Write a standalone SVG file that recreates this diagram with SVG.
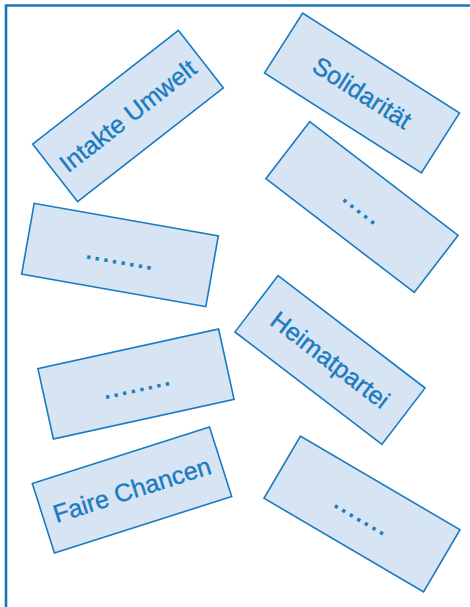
<svg xmlns="http://www.w3.org/2000/svg" width="470" height="607" viewBox="0 0 470 607">
<style>
.card{fill:#d6e4f4;stroke:#1a7bc0;stroke-width:1.6}
.lbl{font-family:"Liberation Sans",Arial,sans-serif;font-size:25px;fill:#1a7bc0;stroke:#1a7bc0;stroke-width:0.35;text-anchor:middle}
.dots{letter-spacing:1.8px;stroke-width:0.8}
.frame{fill:none;stroke:#1778b8;stroke-width:2.6}
</style>
<rect width="470" height="607" fill="#ffffff"/>
<path class="frame" d="M6 607 V5.5 H470"/>
<g id="connectors"/>
<g id="n-intakte-umwelt" transform="translate(128,116) rotate(-38)">
<rect class="card" x="-92.5" y="-36.5" width="185" height="73"/>
<text class="lbl" x="0" y="8.5">Intakte Umwelt</text>
</g>
<g id="n-solidaritaet" transform="translate(362,93) rotate(32.5)">
<rect class="card" x="-93" y="-35.5" width="186" height="71"/>
<text class="lbl" x="0" y="8.5">Solidarität</text>
</g>
<g id="n-dots-right-1" transform="translate(362,207) rotate(37.5)">
<rect class="card" x="-93.5" y="-36" width="187" height="72"/>
<text class="lbl dots" x="1" y="7">.....</text>
</g>
<g id="n-dots-left-1" transform="translate(120,255) rotate(10)">
<rect class="card" x="-93.5" y="-36" width="187" height="72"/>
<text class="lbl dots" x="1" y="9">........</text>
</g>
<g id="n-dots-left-2" transform="translate(136,384) rotate(-12.4)">
<rect class="card" x="-92.5" y="-36" width="185" height="72"/>
<text class="lbl dots" x="1" y="8">........</text>
</g>
<g id="n-heimatpartei" transform="translate(330,360) rotate(37.4)">
<rect class="card" x="-92.5" y="-35.5" width="185" height="71"/>
<text class="lbl" x="0" y="8.5">Heimatpartei</text>
</g>
<g id="n-faire-chancen" transform="translate(132,490) rotate(-17.7)">
<rect class="card" x="-93" y="-36.5" width="186" height="73"/>
<text class="lbl" x="0" y="8.5">Faire Chancen</text>
</g>
<g id="n-dots-right-2" transform="translate(362,514) rotate(30.4)">
<rect class="card" x="-92.5" y="-36" width="185" height="72"/>
<text class="lbl dots" x="1" y="8">.......</text>
</g>
</svg>
